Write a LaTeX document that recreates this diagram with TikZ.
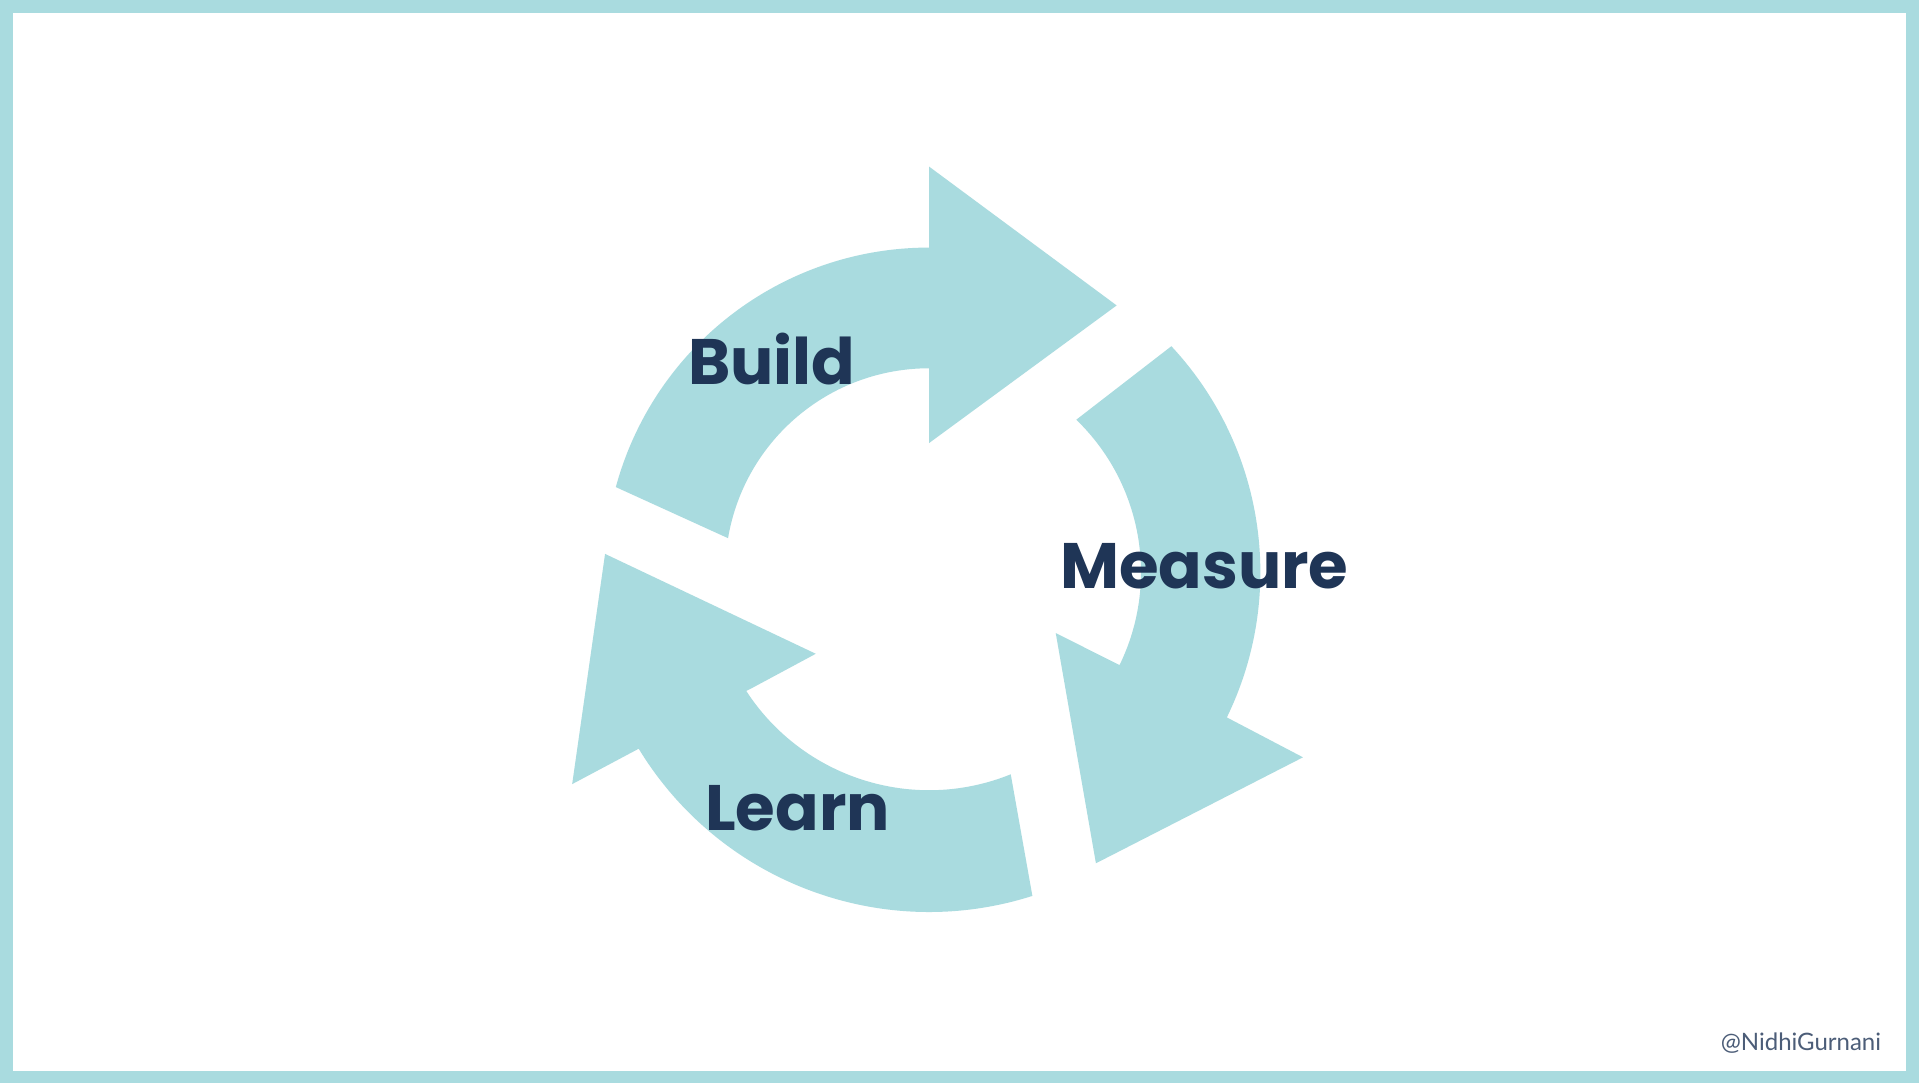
\documentclass[tikz,border=0pt]{standalone}
\usepackage{fontspec}
\setmainfont{Lato}
\newfontfamily\labelfont{Poppins}
\definecolor{teal}{HTML}{A9DBDF}
\definecolor{navy}{HTML}{1F3556}
\tikzset{arrowshape/.style={fill=teal,draw=none},
 lbl/.style={text=navy,font=\labelfont\bfseries\fontsize{15}{18}\selectfont},
 wmark/.style={text=navy!80,font=\fontsize{5.6}{7}\selectfont}}
\begin{document}
\begin{tikzpicture}[x=0.01cm,y=0.01cm]
\fill[white] (0,0) rectangle (1568,882);
\draw[teal,line width=3] (1.5,1.5) rectangle (1566.5,880.5);
\useasboundingbox (0,0) rectangle (1568,882);
\coordinate (c) at (759,416);
% Build
\fill[arrowshape] ([shift={(164.8:266.5)}]c) arc[start angle=164.8,end angle=90,radius=266.5]
 -- (759,749) -- (913,635) -- (759,522) -- (759,583.4)
 arc[start angle=90,end angle=170.4,radius=167.4] -- cycle;
% Measure
\fill[arrowshape] ([shift={(43:272)}]c) arc[start angle=43,end angle=-26,radius=272]
 -- (1066,264) -- (896,177) -- (863,366) -- ([shift={(-26:174)}]c)
 arc[start angle=-26,end angle=46,radius=174] -- cycle;
% Learn
\fill[arrowshape] ([shift={(-72.3:279)}]c) arc[start angle=-72.3,end angle=-148.7,radius=279]
 -- (466,242) -- (493,431) -- (666,349) -- (612,320) -- ([shift={(213:179)}]c)
 arc[start angle=213,end angle=292,radius=179] -- cycle;
\node[lbl] (build) at (630,591) {Build};
\node[lbl] (measure) at (985,421) {Measure};
\node[lbl] (learn) at (651,222) {Learn};
\node[wmark,anchor=east] (wm) at (1553,29) {@NidhiGurnani};
\end{tikzpicture}
\end{document}
